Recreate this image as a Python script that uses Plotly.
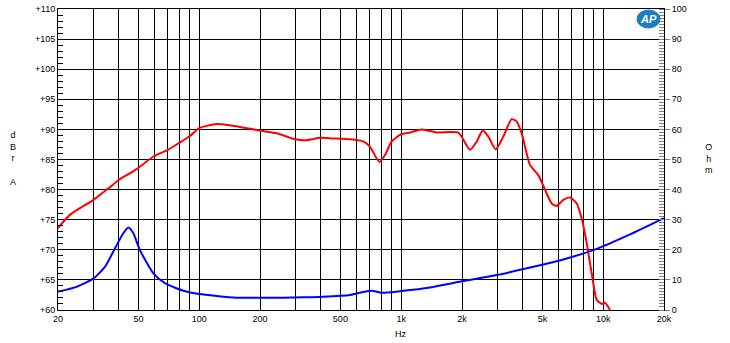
import plotly.graph_objects as go

# Frequency response (dBrA)
spl_freq = [20, 22.9, 30, 35.5, 40, 49, 59.3, 70, 80, 90, 100, 122, 142, 200, 242, 300, 340, 396,
            459, 558, 649, 701, 780, 832, 897, 1000, 1106, 1263, 1500, 1918, 2191, 2365, 2532,
            2700, 2937, 3203, 3524, 3733, 3950, 4342, 4773, 5000, 5560, 5886, 6346, 6849, 7396,
            7828, 8288, 8770, 9287, 9830, 10207, 10805]
spl_db = [73.6, 75.8, 78.3, 80.2, 81.6, 83.4, 85.5, 86.6, 87.8, 88.9, 90.2, 90.9, 90.7, 89.8, 89.35,
          88.35, 88.2, 88.6, 88.5, 88.35, 88.0, 87.1, 84.6, 85.75, 88.0, 89.2, 89.5, 90.0, 89.5,
          89.45, 86.6, 88.0, 89.8, 88.8, 86.7, 88.8, 91.7, 91.3, 89.35, 84.1, 82.4, 81.0, 77.7,
          77.3, 78.3, 78.7, 77.7, 75.2, 71.1, 66.1, 61.7, 61.0, 61.2, 60.0]

# Impedance (Ohm)
imp_freq = [20, 24.7, 30, 34.2, 38.3, 42.1, 44.6, 47.2, 50.9, 59.3, 67.7, 83.5, 100, 122, 153, 261,
            327, 411, 558, 602, 714, 801, 1000, 1389, 2030, 2971, 4342, 6346, 9287, 13575, 20000]
imp_ohm = [6.1, 7.7, 10.5, 14.4, 20.5, 25.5, 27.4, 25.5, 19.9, 12.2, 8.9, 6.4, 5.3, 4.65, 4.1, 4.1,
           4.2, 4.4, 5.0, 5.5, 6.4, 5.7, 6.3, 7.5, 9.6, 11.6, 14.1, 16.8, 20.3, 25.1, 30.5]

x_grid = [20, 30, 40, 50, 60, 70, 80, 90, 100, 200, 300, 400, 500, 600, 700, 800, 900,
          1000, 2000, 3000, 4000, 5000, 6000, 7000, 8000, 9000, 10000, 20000]
x_labels = {20: "20", 50: "50", 100: "100", 200: "200", 500: "500", 1000: "1k", 2000: "2k",
            5000: "5k", 10000: "10k", 20000: "20k"}
y_left_ticks = list(range(60, 111, 5))
y_right_ticks = list(range(0, 101, 10))

font = dict(family="Liberation Sans, Arial, sans-serif", size=9, color="black")

L, R, T, B = 58, 66, 9, 33
W, H = 730, 343

fig = go.Figure()
fig.add_trace(go.Scatter(x=spl_freq, y=spl_db, mode="lines",
                         line=dict(color="#ff0000", width=2, shape="spline", smoothing=0.6),
                         showlegend=False, hoverinfo="skip"))
fig.add_trace(go.Scatter(x=imp_freq, y=imp_ohm, mode="lines", yaxis="y2",
                         line=dict(color="#0000ff", width=2, shape="spline", smoothing=0.6),
                         showlegend=False, hoverinfo="skip"))

fig.update_layout(
    width=W, height=H,
    margin=dict(l=L, r=R, t=T, b=B, autoexpand=False),
    paper_bgcolor="white", plot_bgcolor="white",
    font=font,
    xaxis=dict(type="log", range=[1.30103, 4.30103], tickvals=x_grid,
               ticktext=[x_labels.get(v, "") for v in x_grid], automargin=False,
               showgrid=True, gridcolor="black", gridwidth=1, ticks="", ticklen=0,
               showline=True, linecolor="black", linewidth=1, mirror=True,
               tickfont=font, zeroline=False),
    yaxis=dict(range=[60, 110], tickvals=y_left_ticks, ticktext=["+%d" % v for v in y_left_ticks],
               automargin=False,
               showgrid=True, gridcolor="black", gridwidth=1, ticks="inside", ticklen=6, tickcolor="black",
               minor=dict(dtick=1, ticks="inside", ticklen=5, tickcolor="black", showgrid=False),
               showline=True, linecolor="black", linewidth=1, tickfont=font, zeroline=False),
    yaxis2=dict(range=[0, 100], tickvals=y_right_ticks, overlaying="y", side="right", automargin=False,
                showgrid=False, ticks="outside", ticklen=5, tickcolor="#808080",
                minor=dict(dtick=1, ticks="inside", ticklen=5, tickcolor="#808080"),
                showline=True, linecolor="black", linewidth=1, tickfont=font, zeroline=False),
)

pw, ph = W - L - R, H - T - B


def px(x, y):
    return (x - L) / pw, (H - B - y) / ph


notes = [
    ("d<br>B<br>r<br><br>A", 13, 158, font),
    ("O<br>h<br>m", 709, 158, font),
    ("Hz", 401, 334, font),
]
for text, x, y, f in notes:
    ax, ay = px(x, y)
    fig.add_annotation(text=text, x=ax, y=ay, xref="paper", yref="paper", showarrow=False,
                       font=f, xanchor="center", yanchor="middle")

# AP logo: blue oval with white italic letters
x0, y0 = px(637, 28)
x1, y1 = px(660, 10)
fig.add_shape(type="circle", xref="paper", yref="paper", x0=x0, y0=y0, x1=x1, y1=y1,
              fillcolor="#1a7fc0", line=dict(color="#1a7fc0", width=1), layer="above")
ax, ay = px(648.5, 19)
fig.add_annotation(text="<b><i>AP</i></b>", x=ax, y=ay, xref="paper", yref="paper", showarrow=False,
                   font=dict(family="Liberation Sans, Arial", size=11, color="white"),
                   xanchor="center", yanchor="middle")

fig.write_html("out.html", config={"displayModeBar": False},
               post_script="document.body.style.margin='0';document.body.style.overflow='hidden';")
